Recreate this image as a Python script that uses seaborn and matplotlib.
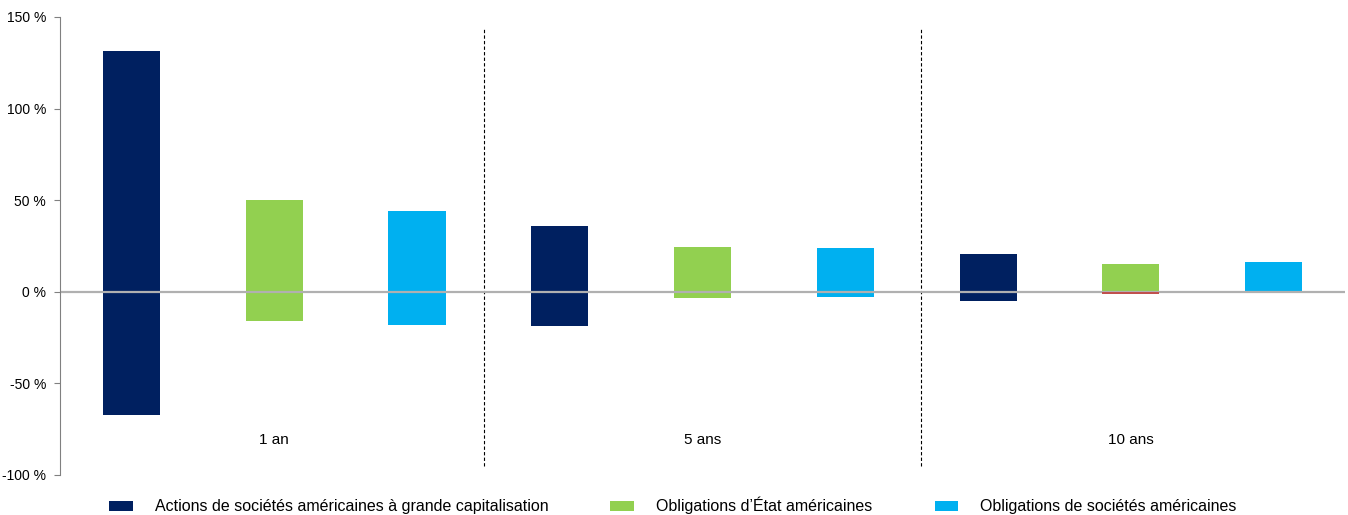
import pandas as pd
import seaborn as sns
import matplotlib.pyplot as plt
from matplotlib.patches import Patch

# Range of returns (max / min, %) per holding period
periods = ["1 an", "5 ans", "10 ans"]
assets = ["Actions de sociétés américaines à grande capitalisation",
          "Obligations d’État américaines",
          "Obligations de sociétés américaines"]
actions_max = [131.5, 36.0, 20.7]
actions_min = [-67.1, -18.6, -4.9]
etat_max = [50.2, 24.6, 15.3]
etat_min = [-15.8, -3.3, -1.0]
societes_max = [44.2, 24.0, 16.4]
societes_min = [-18.0, -2.7, 0.5]

colors = {assets[0]: "#002060", assets[1]: "#92D050", assets[2]: "#00B0F0", "neg": "#C0504D"}

rows = []
for i, p in enumerate(periods):
    for a, mx, mn in zip(assets, [actions_max, etat_max, societes_max],
                         [actions_min, etat_min, societes_min]):
        # small negative part of 10-year government bonds is shown in red
        low_key = "neg" if (a == assets[1] and p == "10 ans") else a
        rows.append({"slot": f"{p}|{a}", "period": p, "asset": a,
                     "high": mx[i], "low": mn[i], "low_key": low_key})
df = pd.DataFrame(rows)
slots = list(df["slot"])

plt.rcParams["font.family"] = ["Liberation Sans", "DejaVu Sans"]
fig = plt.figure(figsize=(13.48, 5.15), dpi=100)
ax = fig.add_axes([60 / 1348, 1 - 475 / 515, 1285 / 1348, 458 / 515])

sns.barplot(data=df, x="slot", y="high", hue="asset", order=slots, palette=colors,
            dodge=False, width=0.4, saturation=1, legend=False, ax=ax, zorder=2)
sns.barplot(data=df, x="slot", y="low", hue="low_key", order=slots, palette=colors,
            dodge=False, width=0.4, saturation=1, legend=False, ax=ax, zorder=2)

# red segment sits on top of the zero line
red = plt.matplotlib.colors.to_rgba(colors["neg"])
for bar in ax.patches:
    if tuple(round(c, 3) for c in bar.get_facecolor()) == tuple(round(c, 3) for c in red):
        bar.set_zorder(3)

ax.axhline(0, color="#b0b0b0", lw=1.6, zorder=2.5)
ax.set_xlim(-0.5, 8.5)
ax.set_ylim(-100, 150)
ax.set_yticks([-100, -50, 0, 50, 100, 150])
ax.set_yticklabels([f"{v} %" for v in [-100, -50, 0, 50, 100, 150]], fontsize=10)
ax.tick_params(axis="y", length=4, color="#808080", pad=6)
ax.set_xticks([])
ax.set_xlabel("")
ax.set_ylabel("")
for s in ["top", "right", "bottom"]:
    ax.spines[s].set_visible(False)
ax.spines["left"].set_color("#808080")

# period separators and labels
for xv in [2.47, 5.53]:
    ax.plot([xv, xv], [-95, 143.6], color="black", lw=0.8, ls=(0, (3, 2)), zorder=1)
for i, p in enumerate(periods):
    ax.text(3 * i + 1, -81, p, ha="center", va="center", fontsize=11)

handles = [Patch(facecolor=colors[a], label=a) for a in assets]
fig.legend(handles=handles, loc="center left", bbox_to_anchor=(109 / 1348, 0.018),
           ncol=3, frameon=False, fontsize=11.5, handlelength=1.5, handleheight=0.65,
           handletextpad=1.35, columnspacing=3.9, borderpad=0, borderaxespad=0)

fig.savefig("out.png", dpi=100)
